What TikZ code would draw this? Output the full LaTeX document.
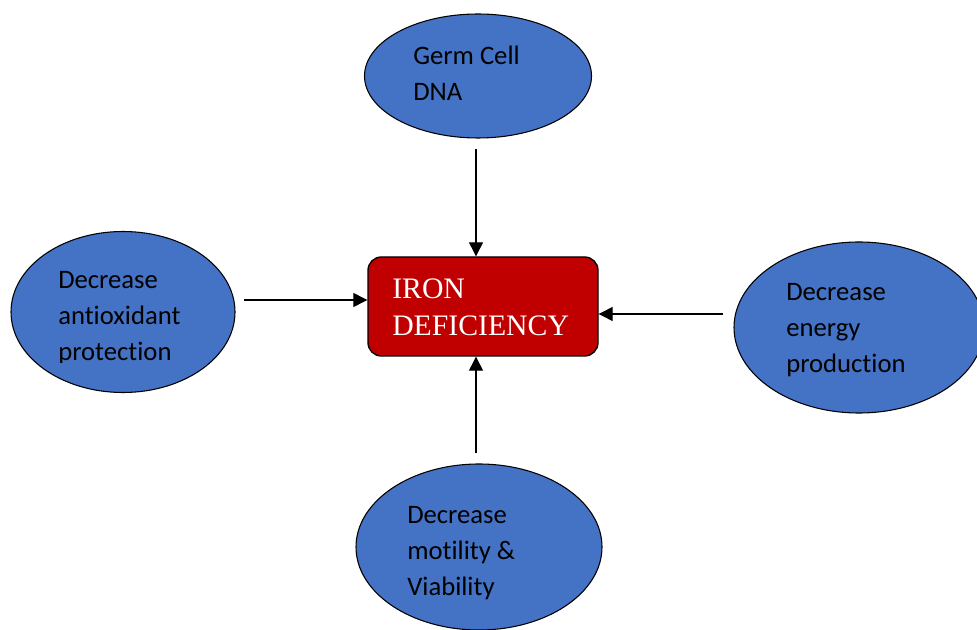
\documentclass[tikz,border=0pt]{standalone}
\usepackage{fontspec}
\usetikzlibrary{shapes.geometric,arrows.meta}
\newfontfamily\calfont[Ligatures={NoCommon}]{Carlito}
\newfontfamily\timesfont{Liberation Serif}
\definecolor{blobblue}{HTML}{4472C4}
\definecolor{ironred}{HTML}{C00000}
\tikzset{
  blob/.style={ellipse, draw=black, line width=0.8pt, fill=blobblue, inner sep=0pt},
  blobtext/.style={anchor=base west, align=left, inner sep=0pt, text=black,
    font=\calfont\fontsize{20pt}{27pt}\selectfont},
  ironbox/.style={rectangle, rounded corners=10pt, draw=black, line width=1pt,
    fill=ironred, inner sep=0pt, minimum width=172.5pt, minimum height=74.25pt},
  irontext/.style={anchor=base west, align=left, inner sep=0pt, text=white,
    font=\timesfont\fontsize{22.3pt}{27.75pt}\selectfont},
  conn/.style={line width=0.8pt, -{Triangle[length=10.5pt,width=10.5pt]}}
}
\begin{document}
\begin{tikzpicture}[x=0.75pt,y=-0.75pt]
\clip (0,0) rectangle (977,630);
\fill[white] (0,0) rectangle (977,630);
% ellipses
\node[blob, minimum width=170.25pt, minimum height=93pt] (germ) at (478,76) {};
\node[blob, minimum width=168pt, minimum height=120.75pt] (anti) at (123,312) {};
\node[blob, minimum width=187.5pt, minimum height=128.25pt] (energy) at (859,327.5) {};
\node[blob, minimum width=184.5pt, minimum height=124.5pt] (motil) at (479,547) {};
% texts (base anchor = baseline of last line)
\node[blobtext] (germt) at (413,101) {Germ Cell\\DNA};
\begin{scope}
\clip (0,200) rectangle (240,362.5);
\node[blobtext] (antit) at (58,360.7) {Decrease\\antioxidant\\protection};
\end{scope}
\node[blobtext] (energyt) at (786,373) {Decrease\\energy\\production};
\node[blobtext] (motilt) at (407,595) {Decrease\\motility \&\\Viability};
% center box
\node[ironbox] (iron) at (483,306.5) {};
\node[irontext] (iront) at (392,336) {IRON\\DEFICIENCY};
% connectors
\coordinate (c1) at (476,149);
\coordinate (c2) at (244,300);
\coordinate (c3) at (723,314);
\coordinate (c4) at (476,453);
\draw[conn] (c1) -- (c1 |- iron.north);
\draw[conn] (c2) -- (c2 -| iron.west);
\draw[conn] (c3) -- (c3 -| iron.east);
\draw[conn] (c4) -- (c4 |- iron.south);
\end{tikzpicture}
\end{document}
